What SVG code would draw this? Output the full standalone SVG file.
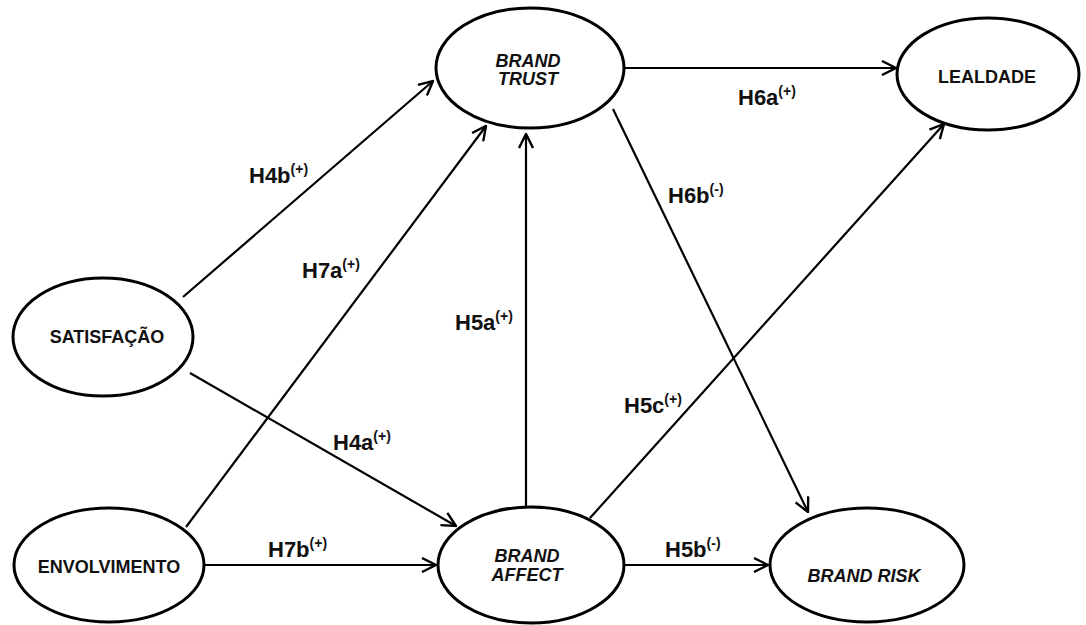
<svg xmlns="http://www.w3.org/2000/svg" width="1086" height="625" viewBox="0 0 1086 625">
  <defs>
    <marker id="arrow" viewBox="0 0 16 16" refX="15" refY="8" markerWidth="16" markerHeight="16" markerUnits="userSpaceOnUse" orient="auto">
      <path d="M1,1 L15,8 L1,15" fill="none" stroke="#000" stroke-width="2.4" stroke-linejoin="miter"/>
    </marker>
    <style>
      .node { fill: #fff; stroke: #000; stroke-width: 3; }
      .edge { stroke: #000; stroke-width: 2.2; fill: none; marker-end: url(#arrow); }
      .nl { font-family: "Liberation Sans", Arial, sans-serif; font-weight: bold; font-size: 18px; fill: #111; text-anchor: middle; }
      .it { font-style: italic; }
      .hl { font-family: "Liberation Sans", Arial, sans-serif; font-weight: bold; font-size: 22px; fill: #111; }
      .sup { font-size: 14px; }
    </style>
  </defs>
  <rect width="1086" height="625" fill="#fff"/>

  <!-- connectors -->
  <g id="connectors">
    <line class="edge" x1="183" y1="297" x2="433" y2="81"/>
    <line class="edge" x1="186" y1="527" x2="486" y2="126"/>
    <line class="edge" x1="526" y1="507" x2="526" y2="134"/>
    <line class="edge" x1="190" y1="373" x2="456" y2="526"/>
    <line class="edge" x1="205" y1="565" x2="436" y2="565"/>
    <line class="edge" x1="624" y1="565" x2="768" y2="565"/>
    <line class="edge" x1="625" y1="68" x2="896" y2="68"/>
    <line class="edge" x1="613" y1="109" x2="808" y2="512"/>
    <line class="edge" x1="590" y1="518" x2="944" y2="124"/>
  </g>

  <!-- hypothesis labels -->
  <g id="labels">
    <text class="hl" x="249" y="183">H4b<tspan class="sup" dy="-9">(+)</tspan></text>
    <text class="hl" x="302" y="278">H7a<tspan class="sup" dy="-9">(+)</tspan></text>
    <text class="hl" x="455" y="330">H5a<tspan class="sup" dy="-9">(+)</tspan></text>
    <text class="hl" x="333" y="450">H4a<tspan class="sup" dy="-9">(+)</tspan></text>
    <text class="hl" x="268" y="557">H7b<tspan class="sup" dy="-9">(+)</tspan></text>
    <text class="hl" x="665" y="557">H5b<tspan class="sup" dy="-9">(-)</tspan></text>
    <text class="hl" x="738" y="105">H6a<tspan class="sup" dy="-9">(+)</tspan></text>
    <text class="hl" x="668" y="203">H6b<tspan class="sup" dy="-9">(-)</tspan></text>
    <text class="hl" x="624" y="413">H5c<tspan class="sup" dy="-9">(+)</tspan></text>
  </g>

  <!-- constructs -->
  <g id="brand-trust">
    <ellipse class="node" cx="530" cy="68" rx="94" ry="60"/>
    <text class="nl it" x="528" y="67">BRAND</text>
    <text class="nl it" x="528" y="85">TRUST</text>
  </g>
  <g id="lealdade">
    <ellipse class="node" cx="988" cy="74" rx="91" ry="56"/>
    <text class="nl" x="987" y="83">LEALDADE</text>
  </g>
  <g id="satisfacao">
    <ellipse class="node" cx="103" cy="337" rx="90" ry="59"/>
    <text class="nl" x="107" y="343">SATISFAÇÃO</text>
  </g>
  <g id="envolvimento">
    <ellipse class="node" cx="109" cy="565" rx="95" ry="57"/>
    <text class="nl" x="109" y="573">ENVOLVIMENTO</text>
  </g>
  <g id="brand-affect">
    <ellipse class="node" cx="531" cy="565" rx="93" ry="58"/>
    <text class="nl it" x="527" y="562">BRAND</text>
    <text class="nl it" x="527" y="581">AFFECT</text>
  </g>
  <g id="brand-risk">
    <ellipse class="node" cx="867" cy="565" rx="97" ry="57"/>
    <text class="nl it" x="864" y="582">BRAND RISK</text>
  </g>
</svg>
